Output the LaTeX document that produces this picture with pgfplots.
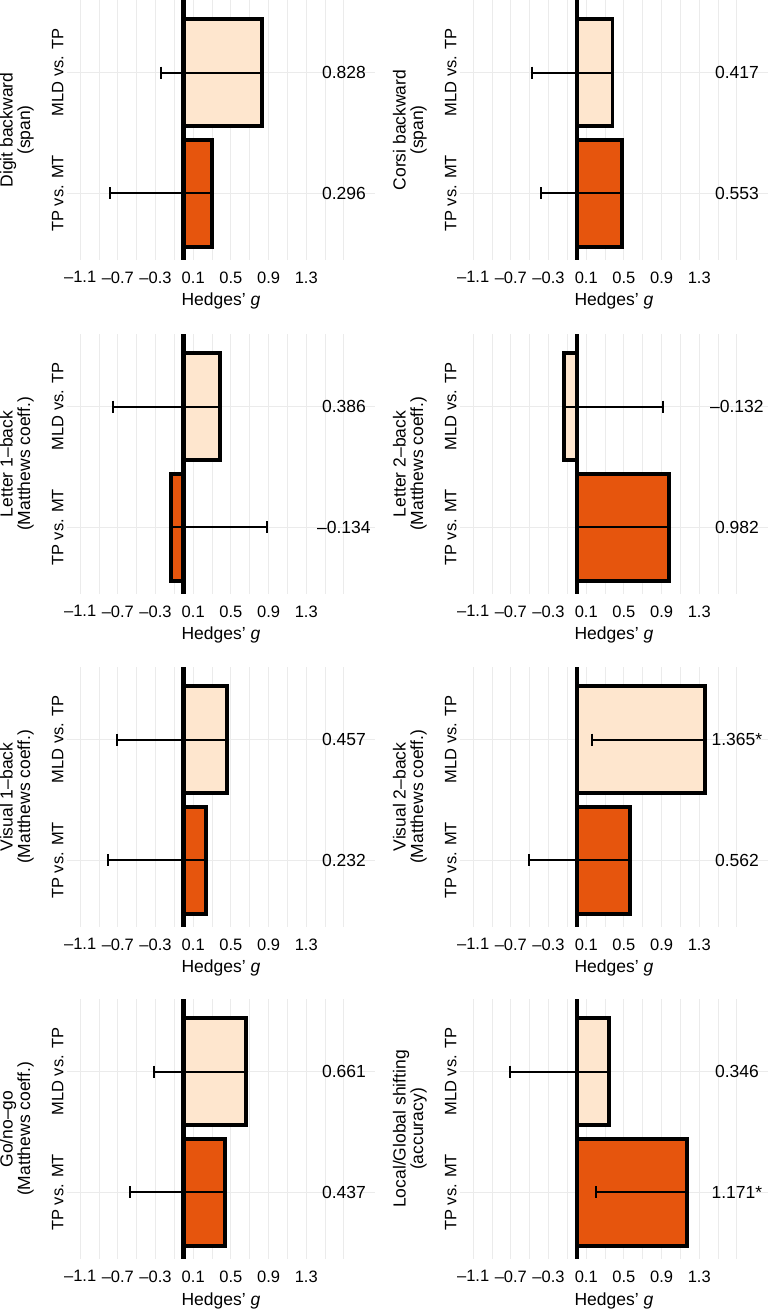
\documentclass[border=0pt]{standalone}
\usepackage{fontspec}
\setmainfont{Liberation Sans}
\usepackage{pgfplots}
\pgfplotsset{compat=1.18}

\definecolor{lightbar}{HTML}{FEE6CE}
\definecolor{darkbar}{HTML}{E6550D}
\definecolor{gridgray}{HTML}{EBEBEB}

\pgfplotsset{
  panel/.style={
    scale only axis, width=308pt, height=260pt,
    xmin=-1.24, xmax=2.03, ymin=0.45, ymax=2.6,
    xtick={-1.1,-0.7,-0.3,0.1,0.5,0.9,1.3},
    xticklabels={–1.1,–0.7,–0.3,0.1,0.5,0.9,1.3},
    minor xtick={-0.9,-0.5,-0.1,0.3,0.7,1.1,1.5,1.7},
    ytick={1,2}, yticklabels={TP vs. MT, MLD vs. TP},
    xmajorgrids, xminorgrids, ymajorgrids,
    major grid style={gridgray, line width=1.2pt},
    minor grid style={gridgray, line width=0.9pt},
    axis line style={draw=none},
    major tick length=0pt, minor tick length=0pt,
    tick label style={font=\fontsize{16.5}{18}\selectfont},
    xticklabel style={yshift=-8pt},
    yticklabel style={rotate=90, anchor=south},
    xlabel={Hedges’ \textit{g}},
    every axis x label/.style={at={(axis description cs:0.5,0)}, anchor=base,
      yshift=-46pt, font=\fontsize{17.5}{20}\selectfont},
    every axis y label/.style={at={(axis description cs:-0.107,0.5)}, rotate=90,
      anchor=south, align=center, inner sep=0pt, font=\fontsize{17.5}{17.5}\selectfont},
    clip=false,
  },
  hbar/.style={xbar, bar width=0.88, draw=black, line width=3.8pt, fill=#1},
  ebar/.style={black, line width=2pt, mark=|, mark size=6pt,
    mark options={line width=2pt}},
}
\tikzset{
  val/.style={font=\fontsize{17.5}{20}\selectfont},
  zero/.style={black, line width=4.6pt},
}

\begin{document}
\begin{tikzpicture}
\useasboundingbox (0,0) rectangle (770pt,1311pt);

% row 1
\begin{axis}[panel, at={(67pt,1051pt)}, ylabel={Digit backward\\(span)}]
  \addplot[hbar=lightbar] coordinates {(0.828,2)};
  \addplot[hbar=darkbar] coordinates {(0.296,1)};
  \addplot[ebar] coordinates {(-0.24,2) (0.828,2)};
  \addplot[ebar] coordinates {(-0.786,1) (0.296,1)};
  \draw[zero] (axis cs:0,0.45) -- (axis cs:0,2.6);
  \node[val] at (axis cs:1.7,2) {0.828};
  \node[val] at (axis cs:1.7,1) {0.296};
\end{axis}
\begin{axis}[panel, at={(460pt,1051pt)}, ylabel={Corsi backward\\(span)}]
  \addplot[hbar=lightbar] coordinates {(0.38,2)};
  \addplot[hbar=darkbar] coordinates {(0.48,1)};
  \addplot[ebar] coordinates {(-0.48,2) (0.38,2)};
  \addplot[ebar] coordinates {(-0.38,1) (0.48,1)};
  \draw[zero] (axis cs:0,0.45) -- (axis cs:0,2.6);
  \node[val] at (axis cs:1.7,2) {0.417};
  \node[val] at (axis cs:1.7,1) {0.553};
\end{axis}

% row 2
\begin{axis}[panel, at={(67pt,717pt)}, ylabel={Letter 1–back\\(Matthews coeff.)}]
  \addplot[hbar=lightbar] coordinates {(0.386,2)};
  \addplot[hbar=darkbar] coordinates {(-0.134,1)};
  \addplot[ebar] coordinates {(-0.747,2) (0.386,2)};
  \addplot[ebar] coordinates {(0.88,1) (-0.134,1)};
  \draw[zero] (axis cs:0,0.45) -- (axis cs:0,2.6);
  \node[val] at (axis cs:1.7,2) {0.386};
  \node[val] at (axis cs:1.7,1) {–0.134};
\end{axis}
\begin{axis}[panel, at={(460pt,717pt)}, ylabel={Letter 2–back\\(Matthews coeff.)}]
  \addplot[hbar=lightbar] coordinates {(-0.132,2)};
  \addplot[hbar=darkbar] coordinates {(0.982,1)};
  \addplot[ebar] coordinates {(0.92,2) (-0.132,2)};
  \addplot[ebar] coordinates {(-0.005,1) (0.982,1)};
  \draw[zero] (axis cs:0,0.45) -- (axis cs:0,2.6);
  \node[val] at (axis cs:1.7,2) {–0.132};
  \node[val] at (axis cs:1.7,1) {0.982};
\end{axis}

% row 3
\begin{axis}[panel, at={(67pt,384pt)}, ylabel={Visual 1–back\\(Matthews coeff.)}]
  \addplot[hbar=lightbar] coordinates {(0.457,2)};
  \addplot[hbar=darkbar] coordinates {(0.232,1)};
  \addplot[ebar] coordinates {(-0.704,2) (0.457,2)};
  \addplot[ebar] coordinates {(-0.807,1) (0.232,1)};
  \draw[zero] (axis cs:0,0.45) -- (axis cs:0,2.6);
  \node[val] at (axis cs:1.7,2) {0.457};
  \node[val] at (axis cs:1.7,1) {0.232};
\end{axis}
\begin{axis}[panel, at={(460pt,384pt)}, ylabel={Visual 2–back\\(Matthews coeff.)}]
  \addplot[hbar=lightbar] coordinates {(1.365,2)};
  \addplot[hbar=darkbar] coordinates {(0.562,1)};
  \addplot[ebar] coordinates {(0.166,2) (1.365,2)};
  \addplot[ebar] coordinates {(-0.503,1) (0.562,1)};
  \draw[zero] (axis cs:0,0.45) -- (axis cs:0,2.6);
  \node[val] at (axis cs:1.7,2) {1.365*};
  \node[val] at (axis cs:1.7,1) {0.562};
\end{axis}

% row 4
\begin{axis}[panel, at={(67pt,52pt)}, ylabel={Go/no–go\\(Matthews coeff.)}]
  \addplot[hbar=lightbar] coordinates {(0.661,2)};
  \addplot[hbar=darkbar] coordinates {(0.437,1)};
  \addplot[ebar] coordinates {(-0.315,2) (0.661,2)};
  \addplot[ebar] coordinates {(-0.57,1) (0.437,1)};
  \draw[zero] (axis cs:0,0.45) -- (axis cs:0,2.6);
  \node[val] at (axis cs:1.7,2) {0.661};
  \node[val] at (axis cs:1.7,1) {0.437};
\end{axis}
\begin{axis}[panel, at={(460pt,52pt)}, ylabel={Local/Global shifting\\(accuracy)}]
  \addplot[hbar=lightbar] coordinates {(0.346,2)};
  \addplot[hbar=darkbar] coordinates {(1.171,1)};
  \addplot[ebar] coordinates {(-0.708,2) (0.346,2)};
  \addplot[ebar] coordinates {(0.2,1) (1.171,1)};
  \draw[zero] (axis cs:0,0.45) -- (axis cs:0,2.6);
  \node[val] at (axis cs:1.7,2) {0.346};
  \node[val] at (axis cs:1.7,1) {1.171*};
\end{axis}
\end{tikzpicture}
\end{document}
